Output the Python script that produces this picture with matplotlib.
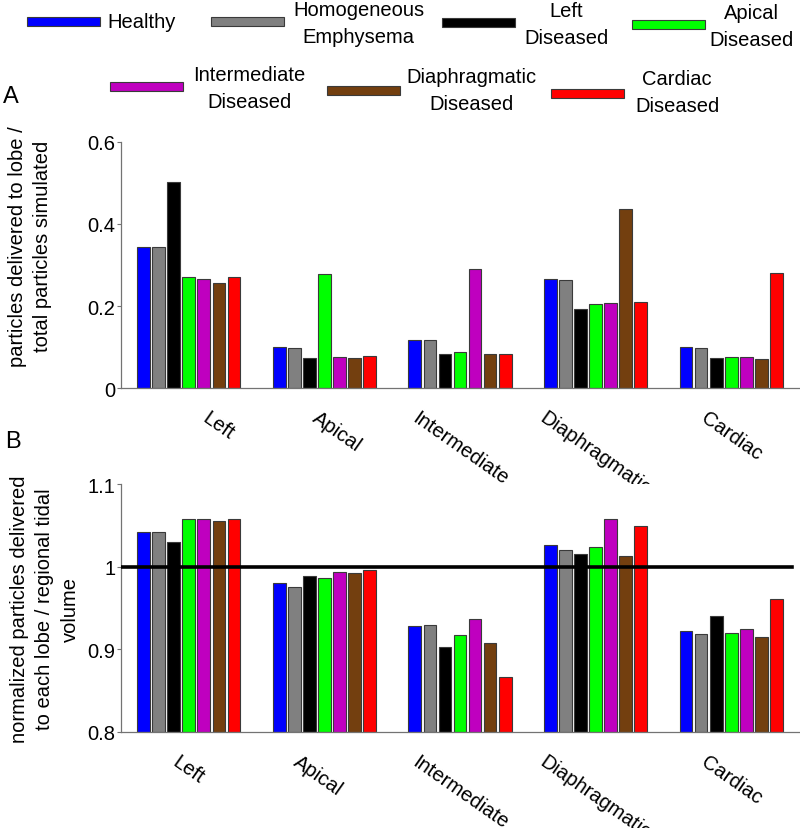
import numpy as np
import matplotlib
matplotlib.use("Agg")
import matplotlib.pyplot as plt
from matplotlib.patches import Rectangle

plt.rcParams['font.family'] = ['Liberation Sans', 'DejaVu Sans']

# lobes on the x axis, one bar per simulated scenario
lobes = ['Left', 'Apical', 'Intermediate', 'Diaphragmatic', 'Cardiac']
scenarios = ['Healthy', 'Homogeneous\nEmphysema', 'Left\nDiseased', 'Apical\nDiseased',
             'Intermediate\nDiseased', 'Diaphragmatic\nDiseased', 'Cardiac\nDiseased']
colors = ['#0000ff', '#808080', '#000000', '#00ff00', '#bf00bf', '#733f0f', '#ff0000']

# panel A: particles delivered to lobe / total particles simulated (row = scenario)
delivered = [
    [0.345, 0.100, 0.117, 0.265, 0.100],
    [0.345, 0.099, 0.117, 0.263, 0.099],
    [0.502, 0.074, 0.083, 0.192, 0.074],
    [0.271, 0.277, 0.089, 0.205, 0.077],
    [0.265, 0.077, 0.291, 0.207, 0.076],
    [0.256, 0.074, 0.083, 0.437, 0.072],
    [0.271, 0.079, 0.084, 0.210, 0.280],
]

# panel B: normalized particles delivered / regional tidal volume
normalized = [
    [1.042, 0.981, 0.928, 1.026, 0.922],
    [1.042, 0.976, 0.930, 1.021, 0.919],
    [1.030, 0.989, 0.903, 1.015, 0.940],
    [1.058, 0.986, 0.918, 1.024, 0.920],
    [1.058, 0.994, 0.937, 1.058, 0.925],
    [1.056, 0.992, 0.908, 1.013, 0.915],
    [1.058, 0.996, 0.867, 1.050, 0.961],
]

W, H = 800, 829
fig = plt.figure(figsize=(W / 100, H / 100), dpi=100)

slot = 0.111
bar_w = 0.094
x = np.arange(1, len(lobes) + 1)


def draw_panel(ax, data, ylim, yticks, ylabel, label_y, label_x, tick_pad, label_shift):
    for i, vals in enumerate(data):
        ax.bar(x + (i - 3) * slot, np.array(vals) - ylim[0], bottom=ylim[0], width=bar_w,
               color=colors[i], edgecolor='#3a3a3a', linewidth=0.8, zorder=2)
    ax.set_xlim(0.5, 5.5)
    ax.set_ylim(*ylim)
    ax.set_yticks(yticks)
    ax.set_yticklabels([f'{v:g}' for v in yticks])
    # ticks are hidden, so the label positions can be nudged like in the original
    ax.set_xticks(x + np.array(label_shift))
    ax.set_xticklabels(lobes, rotation=-35, ha='center', va='top')
    for s in ['top', 'right']:
        ax.spines[s].set_visible(False)
    for s in ['left', 'bottom']:
        ax.spines[s].set_color('0.45')
        ax.spines[s].set_linewidth(0.9)
    ax.tick_params(axis='y', direction='out', length=3, pad=1, labelsize=14.5, color='0.45')
    ax.tick_params(axis='x', length=0, pad=tick_pad, labelsize=14.5)
    ax.text(label_x, label_y, ylabel, transform=ax.transAxes, rotation=90,
            ha='center', va='center', multialignment='center', fontsize=14.5, linespacing=1.4)


axA = fig.add_axes([121 / W, 1 - 389.3 / H, 678 / W, 246.6 / H])
draw_panel(axA, delivered, (0, 0.6), [0, 0.2, 0.4, 0.6],
           'particles delivered to lobe /\ntotal particles simulated',
           0.58, (30 - 121) / 678, 14, [0.22, 0.09, 0, 0, 0])

axB = fig.add_axes([121 / W, 1 - 733 / H, 678 / W, 247.7 / H])
draw_panel(axB, normalized, (0.8, 1.1), [0.8, 0.9, 1.0, 1.1],
           'normalized particles delivered\nto each lobe / regional tidal\nvolume',
           0.5, (45 - 121) / 678, 14, [0, -0.05, 0, 0, 0])
axB.axhline(1.0, xmin=0, xmax=0.99, color='black', linewidth=2.6, zorder=3)

# panel letters
fig.text(3 / W, 1 - 97 / H, 'A', fontsize=17, va='center', ha='left')
fig.text(5 / W, 1 - 442 / H, 'B', fontsize=17, va='center', ha='left')

# legend laid out by hand: (patch left, patch centre y, text left, text centre y) in pixels
legend_pos = [(27, 22, 107, 22), (211, 22, 293, 24), (442, 23, 524, 25), (632, 25, 709, 27),
              (110, 87, 193, 89), (327, 91, 406, 91), (551, 94, 635, 93)]
for (px, py, tx, ty), name, c in zip(legend_pos, scenarios, colors):
    fig.add_artist(Rectangle((px / W, 1 - (py + 4.5) / H), 73 / W, 9 / H,
                             transform=fig.transFigure, facecolor=c,
                             edgecolor='#3a3a3a', linewidth=0.8))
    fig.text(tx / W, 1 - ty / H, name, fontsize=14.5, ha='left', va='center',
             multialignment='center', linespacing=1.5)

fig.savefig('out.png', dpi=100)
